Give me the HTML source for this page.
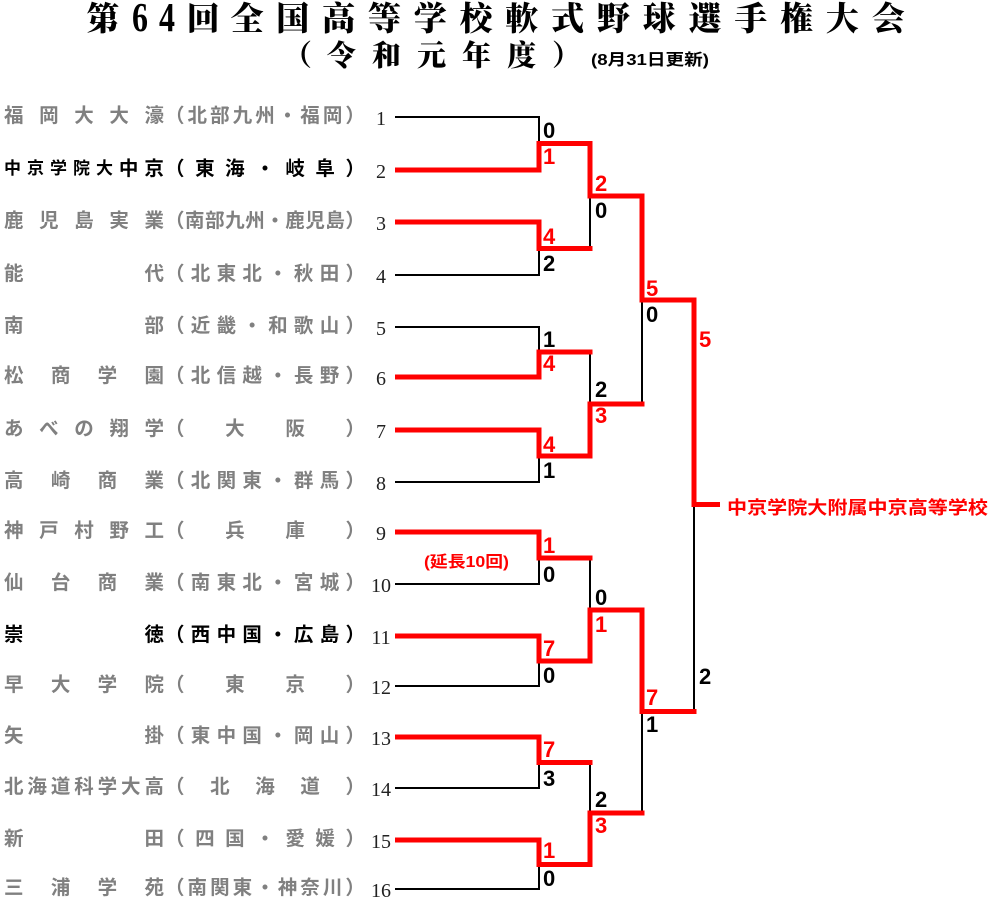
<!DOCTYPE html>
<html><head><meta charset="utf-8"><style>
html,body{margin:0;padding:0;background:#fff;width:993px;height:914px;overflow:hidden;position:relative}
.row{position:absolute;left:0;width:380px;height:28px;line-height:28px;font-family:"Liberation Sans","Noto Sans CJK JP",sans-serif;font-weight:bold;font-size:19.5px;color:#808080;white-space:nowrap}
.nm{position:absolute;left:4px;width:160px;top:0;height:28px;display:flex;justify-content:space-between;align-items:center}
.rg{position:absolute;left:165px;width:200px;top:0;height:28px;display:flex;justify-content:space-between;align-items:center}
.b{color:#000}
.sm{font-size:17px}
svg{position:absolute;left:0;top:0}
</style></head><body>

<svg width="993" height="914" viewBox="0 0 993 914" xmlns="http://www.w3.org/2000/svg">
  <!-- Title line 1 -->
  <g font-family="'Noto Serif CJK SC', 'Liberation Serif', serif" font-weight="900" font-size="33" fill="#000">
    <text x="86.5" y="30">第</text>
    <text x="186.5" y="30">回</text>
    <text x="230.5 276.3 322.1 367.9 413.7 459.5 505.3 551.1 596.9 642.7 688.5 734.3 780.1 825.9 871.7" y="30">全国高等学校軟式野球選手権大会</text>
  </g>
  <g font-family="'Liberation Serif', serif" font-weight="bold" font-size="41" fill="#000">
    <text transform="translate(132,31) scale(0.78,1)">6</text>
    <text transform="translate(159,31) scale(0.78,1)">4</text>
  </g>
  <!-- Title line 2 -->
  <g font-family="'Noto Serif CJK SC', 'Liberation Serif', serif" font-weight="900" font-size="29" fill="#000">
    <text x="283 327 372 417 462 507 552" y="65.5">（令和元年度）</text>
  </g>
  <text x="591" y="65" font-family="'Liberation Sans','Noto Sans CJK JP',sans-serif" font-weight="bold" font-size="16" textLength="118" lengthAdjust="spacingAndGlyphs" fill="#000">(8月31日更新)</text>

  <!-- Black bracket lines -->
  <g stroke="#000" stroke-width="2" fill="none" stroke-linecap="square">
    <path d="M396,117 H539 V143.5"/>
    <path d="M396,275 H539 V248.5"/>
    <path d="M396,327 H539 V352"/>
    <path d="M396,482 H539 V456"/>
    <path d="M396,584 H539 V558"/>
    <path d="M396,686 H539 V661"/>
    <path d="M396,788 H539 V762.5"/>
    <path d="M396,889 H539 V864.5"/>
    <path d="M590,196 V248.5"/>
    <path d="M590,352 V404"/>
    <path d="M590,558 V610"/>
    <path d="M590,762.5 V813"/>
    <path d="M642,300 V404"/>
    <path d="M642,711.5 V813"/>
    <path d="M694,505.5 V711.5"/>
  </g>

  <!-- Red winner lines -->
  <g stroke="#ff0000" stroke-width="5" fill="none" stroke-linecap="square" stroke-linejoin="miter">
    <path d="M397.5,170 H539 V143.5 H590 V196 H642 V300 H694 V504.5 H717.5"/>
    <path d="M397.5,222 H539 V248.5 H590"/>
    <path d="M397.5,377 H539 V352 H590"/>
    <path d="M397.5,430 H539 V456 H590 V404 H642"/>
    <path d="M397.5,532 H539 V558 H590"/>
    <path d="M397.5,636 H539 V661 H590 V610 H642 V711.5 H694"/>
    <path d="M397.5,737 H539 V762.5 H590"/>
    <path d="M397.5,840 H539 V864.5 H590 V813 H642"/>
  </g>

  <!-- Seeds -->
  <g font-family="'Liberation Serif', serif" font-size="20" fill="#222" text-anchor="middle">
    <text x="381" y="125">1</text>
    <text x="381" y="178">2</text>
    <text x="381" y="230">3</text>
    <text x="381" y="283">4</text>
    <text x="381" y="335">5</text>
    <text x="381" y="385">6</text>
    <text x="381" y="438">7</text>
    <text x="381" y="490">8</text>
    <text x="381" y="540">9</text>
    <text x="381" y="592">10</text>
    <text x="381" y="644">11</text>
    <text x="381" y="694">12</text>
    <text x="381" y="745">13</text>
    <text x="381" y="796">14</text>
    <text x="381" y="848">15</text>
    <text x="381" y="897">16</text>
  </g>

  <!-- Scores -->
  <g font-family="'Liberation Sans', sans-serif" font-weight="bold" font-size="22">
    <text x="543" y="138" fill="#000">0</text>
    <text x="543" y="164" fill="#ff0000">1</text>
    <text x="543" y="244" fill="#ff0000">4</text>
    <text x="543" y="271" fill="#000">2</text>
    <text x="543" y="347" fill="#000">1</text>
    <text x="543" y="371" fill="#ff0000">4</text>
    <text x="543" y="452" fill="#ff0000">4</text>
    <text x="543" y="478" fill="#000">1</text>
    <text x="543" y="553" fill="#ff0000">1</text>
    <text x="543" y="582" fill="#000">0</text>
    <text x="543" y="656" fill="#ff0000">7</text>
    <text x="543" y="683" fill="#000">0</text>
    <text x="543" y="757" fill="#ff0000">7</text>
    <text x="543" y="786" fill="#000">3</text>
    <text x="543" y="858" fill="#ff0000">1</text>
    <text x="543" y="886" fill="#000">0</text>

    <text x="595" y="191" fill="#ff0000">2</text>
    <text x="595" y="218" fill="#000">0</text>
    <text x="595" y="397" fill="#000">2</text>
    <text x="595" y="423" fill="#ff0000">3</text>
    <text x="595" y="605" fill="#000">0</text>
    <text x="595" y="632" fill="#ff0000">1</text>
    <text x="595" y="807" fill="#000">2</text>
    <text x="595" y="833" fill="#ff0000">3</text>

    <text x="646" y="296" fill="#ff0000">5</text>
    <text x="646" y="322" fill="#000">0</text>
    <text x="646" y="705" fill="#ff0000">7</text>
    <text x="646" y="732" fill="#000">1</text>

    <text x="699" y="347" fill="#ff0000">5</text>
    <text x="699" y="684" fill="#000">2</text>
  </g>

  <!-- Extra innings note -->
  <text x="424" y="567" font-family="'Liberation Sans','Noto Sans CJK JP',sans-serif" font-weight="bold" font-size="16" fill="#ff0000" textLength="85" lengthAdjust="spacingAndGlyphs">(延長10回)</text>

  <!-- Champion -->
  <text x="727" y="514" font-family="'Liberation Sans','Noto Sans CJK JP',sans-serif" font-weight="bold" font-size="18" fill="#ff0000" textLength="261" lengthAdjust="spacingAndGlyphs">中京学院大附属中京高等学校</text>
</svg>

<!-- Team rows -->
<div class="row" style="top:102px"><div class="nm"><span>福</span><span>岡</span><span>大</span><span>大</span><span>濠</span></div><div class="rg"><span>（</span><span>北</span><span>部</span><span>九</span><span>州</span><span>・</span><span>福</span><span>岡</span><span>）</span></div></div>

<div class="row b" style="top:155px"><div class="nm"><span class="sm">中</span><span class="sm">京</span><span class="sm">学</span><span class="sm">院</span><span class="sm">大</span><span>中</span><span>京</span></div><div class="rg"><span>（</span><span>東</span><span>海</span><span>・</span><span>岐</span><span>阜</span><span>）</span></div></div>

<div class="row" style="top:207px"><div class="nm"><span>鹿</span><span>児</span><span>島</span><span>実</span><span>業</span></div><div class="rg"><span>（</span><span>南</span><span>部</span><span>九</span><span>州</span><span>・</span><span>鹿</span><span>児</span><span>島</span><span>）</span></div></div>

<div class="row" style="top:260px"><div class="nm"><span>能</span><span>代</span></div><div class="rg"><span>（</span><span>北</span><span>東</span><span>北</span><span>・</span><span>秋</span><span>田</span><span>）</span></div></div>

<div class="row" style="top:312px"><div class="nm"><span>南</span><span>部</span></div><div class="rg"><span>（</span><span>近</span><span>畿</span><span>・</span><span>和</span><span>歌</span><span>山</span><span>）</span></div></div>

<div class="row" style="top:362px"><div class="nm"><span>松</span><span>商</span><span>学</span><span>園</span></div><div class="rg"><span>（</span><span>北</span><span>信</span><span>越</span><span>・</span><span>長</span><span>野</span><span>）</span></div></div>

<div class="row" style="top:415px"><div class="nm"><span>あ</span><span>べ</span><span>の</span><span>翔</span><span>学</span></div><div class="rg"><span>（</span><span>大</span><span>阪</span><span>）</span></div></div>

<div class="row" style="top:467px"><div class="nm"><span>高</span><span>崎</span><span>商</span><span>業</span></div><div class="rg"><span>（</span><span>北</span><span>関</span><span>東</span><span>・</span><span>群</span><span>馬</span><span>）</span></div></div>

<div class="row" style="top:517px"><div class="nm"><span>神</span><span>戸</span><span>村</span><span>野</span><span>工</span></div><div class="rg"><span>（</span><span>兵</span><span>庫</span><span>）</span></div></div>

<div class="row" style="top:569px"><div class="nm"><span>仙</span><span>台</span><span>商</span><span>業</span></div><div class="rg"><span>（</span><span>南</span><span>東</span><span>北</span><span>・</span><span>宮</span><span>城</span><span>）</span></div></div>

<div class="row b" style="top:621px"><div class="nm"><span>崇</span><span>徳</span></div><div class="rg"><span>（</span><span>西</span><span>中</span><span>国</span><span>・</span><span>広</span><span>島</span><span>）</span></div></div>

<div class="row" style="top:671px"><div class="nm"><span>早</span><span>大</span><span>学</span><span>院</span></div><div class="rg"><span>（</span><span>東</span><span>京</span><span>）</span></div></div>

<div class="row" style="top:722px"><div class="nm"><span>矢</span><span>掛</span></div><div class="rg"><span>（</span><span>東</span><span>中</span><span>国</span><span>・</span><span>岡</span><span>山</span><span>）</span></div></div>

<div class="row" style="top:773px"><div class="nm"><span>北</span><span>海</span><span>道</span><span>科</span><span>学</span><span>大</span><span>高</span></div><div class="rg"><span>（</span><span>北</span><span>海</span><span>道</span><span>）</span></div></div>

<div class="row" style="top:825px"><div class="nm"><span>新</span><span>田</span></div><div class="rg"><span>（</span><span>四</span><span>国</span><span>・</span><span>愛</span><span>媛</span><span>）</span></div></div>

<div class="row" style="top:874px"><div class="nm"><span>三</span><span>浦</span><span>学</span><span>苑</span></div><div class="rg"><span>（</span><span>南</span><span>関</span><span>東</span><span>・</span><span>神</span><span>奈</span><span>川</span><span>）</span></div></div>

</body></html>
